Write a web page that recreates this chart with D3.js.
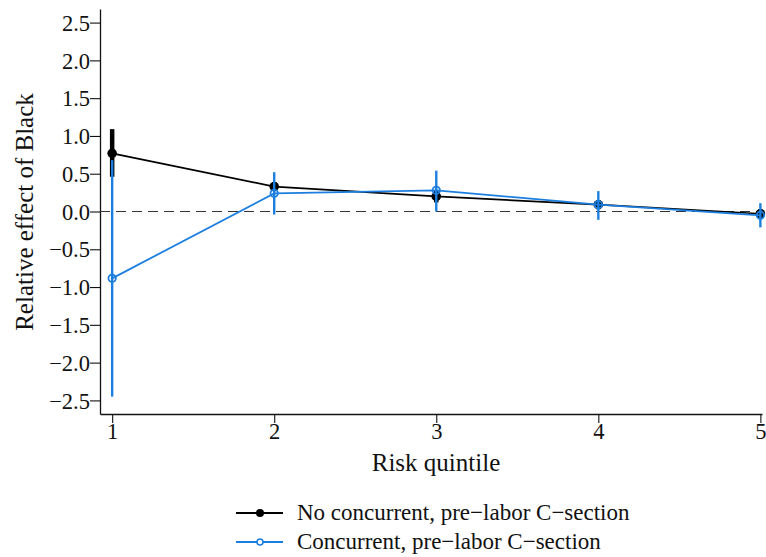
<!DOCTYPE html>
<html><head><meta charset="utf-8">
<script src="https://cdn.jsdelivr.net/npm/d3@7"></script>
</head><body style="margin:0">
<svg id="c" width="766" height="557" font-family="Liberation Serif, Times New Roman, serif" style="font-family:'Liberation Serif','Times New Roman',serif;display:block"></svg>
<script>
const quintiles = [1, 2, 3, 4, 5];
const yTicks = [-2.5, -2.0, -1.5, -1.0, -0.5, 0.0, 0.5, 1.0, 1.5, 2.0, 2.5];
const seriesNames = ["No concurrent, pre\u2212labor C\u2212section", "Concurrent, pre\u2212labor C\u2212section"];
const noConcEst = [0.77, 0.33, 0.20, 0.09, -0.03];
const noConcLo  = [0.46, 0.27, 0.12, 0.03, -0.09];
const noConcHi  = [1.09, 0.39, 0.28, 0.15, 0.03];
const concEst = [-0.885, 0.24, 0.28, 0.09, -0.05];
const concLo  = [-2.45, -0.04, 0.0, -0.11, -0.21];
const concHi  = [0.68, 0.52, 0.54, 0.27, 0.11];

const svg = d3.select("#c");
const x = d3.scaleLinear().domain([0.925, 5.01]).range([100, 762]);
const y = d3.scaleLinear().domain([-2.68, 2.68]).range([414, 9]);

const fmt = v => (v < 0 ? "\u2212" : "") + Math.abs(v).toFixed(1);

const yAx = svg.append("g").attr("transform","translate(100,0)")
  .call(d3.axisLeft(y).tickValues(yTicks).tickFormat(fmt).tickSize(10).tickSizeOuter(0));
const xAx = svg.append("g").attr("transform","translate(0,414)")
  .call(d3.axisBottom(x).tickValues(quintiles).tickFormat(d3.format("d")).tickSize(9).tickSizeOuter(0));
[yAx, xAx].forEach(g => {
  g.attr("font-family", "Liberation Serif, Times New Roman, serif").attr("font-size", 22.5);
  g.select(".domain").attr("stroke","#111").attr("stroke-width",1.3);
  g.selectAll(".tick line").attr("stroke","#111").attr("stroke-width",1.1);
  g.selectAll(".tick text").attr("fill","#111");
});
yAx.selectAll(".tick text").attr("x",-10).attr("dy","0.34em");
xAx.selectAll(".tick text").attr("y",9).attr("dy","0.71em");

svg.append("line").attr("x1",100).attr("x2",762).attr("y1",y(0)).attr("y2",y(0))
  .attr("stroke","#333").attr("stroke-width",1.2).attr("stroke-dasharray","10,6");

const blue = "#1c7fdf", black = "#000";
function drawSeries(est, lo, hi, color, lw, ciw, filled, r) {
  const g = svg.append("g");
  g.selectAll("line.ci").data(quintiles).join("line")
    .attr("x1", d => x(d)).attr("x2", d => x(d))
    .attr("y1", (d,i) => y(lo[i])).attr("y2", (d,i) => y(hi[i]))
    .attr("stroke", color).attr("stroke-width", ciw);
  g.append("path").datum(quintiles)
    .attr("d", d3.line().x(d => x(d)).y((d,i) => y(est[i])))
    .attr("fill","none").attr("stroke", color).attr("stroke-width", lw);
  g.selectAll("circle").data(quintiles).join("circle")
    .attr("cx", d => x(d)).attr("cy", (d,i) => y(est[i])).attr("r", r)
    .attr("fill", filled ? color : "none").attr("stroke", color).attr("stroke-width", filled ? 0 : 1.8);
}
drawSeries(noConcEst, noConcLo, noConcHi, black, 1.7, 4.5, true, 4.8);
drawSeries(concEst, concLo, concHi, blue, 1.8, 2.4, false, 3.7);

svg.append("text").attr("x", 436).attr("y", 471).attr("text-anchor","middle")
  .attr("font-size",25).attr("fill","#111").text("Risk quintile");
svg.append("text").attr("transform","translate(33,212) rotate(-90)").attr("text-anchor","middle")
  .attr("font-size",25).attr("fill","#111").text("Relative effect of Black");

const leg = svg.append("g");
const legColors = [black, blue];
const legY = [513, 542];
seriesNames.forEach((n, i) => {
  leg.append("line").attr("x1",236).attr("x2",283).attr("y1",legY[i]).attr("y2",legY[i])
    .attr("stroke", legColors[i]).attr("stroke-width",1.8);
  leg.append("circle").attr("cx",260).attr("cy",legY[i]).attr("r", i===0 ? 4 : 3)
    .attr("fill", i===0 ? black : "#fff").attr("stroke", legColors[i]).attr("stroke-width", i===0?0:1.6);
  leg.append("text").attr("x",297).attr("y",legY[i]).attr("dy","0.3em")
    .attr("font-size",23).attr("fill","#111").text(n);
});
</script></body></html>
